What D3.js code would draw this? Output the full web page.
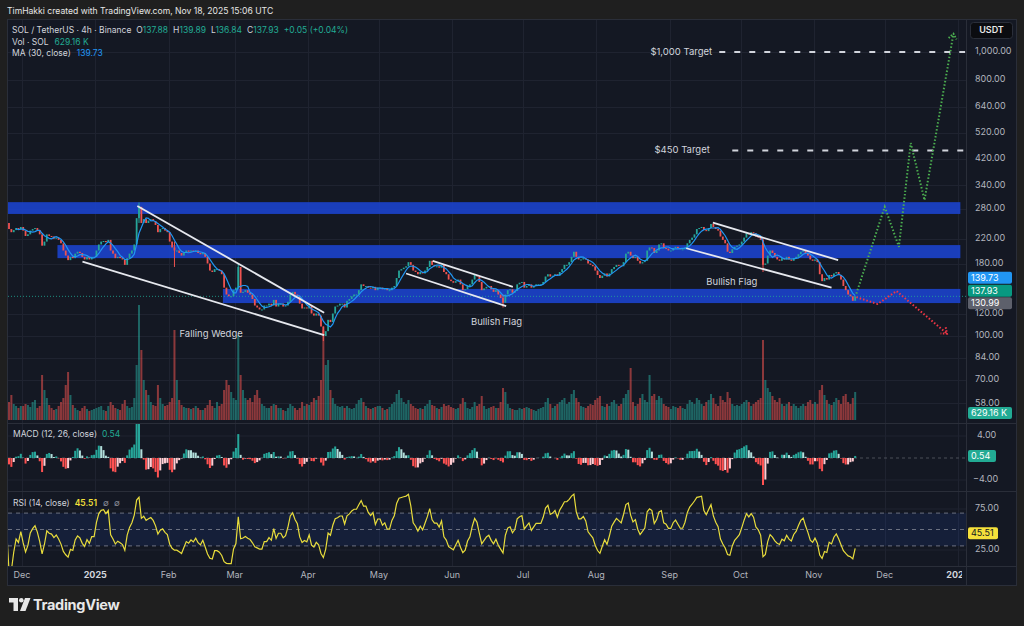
<!DOCTYPE html>
<html><head><meta charset="utf-8">
<script src="https://cdn.jsdelivr.net/npm/d3@7"></script>
<style>
html,body{margin:0;padding:0;background:#1f1f1f;}
svg{display:block;font-family:Inter,"Noto Sans",sans-serif;}
</style></head><body>
<svg id="c" width="1024" height="626"></svg>
<script>
// ---------------- DATA ----------------
const startDate = "2024-11-24";
const firstOpen = 252;
const closeNov24 = [250,238,232,236,240,238,242];
const closeDec24 = [235,225,228,235,238,240,236,228,208,215,228,225,224,220,222,218,212,200,192,185,190,188,195,198,196,190,186,190,186,190,190];
const closeJan25 = [200,210,215,216,214,218,200,195,188,190,188,186,178,188,195,200,210,260,285,250,258,250,255,258,254,246,232,238,240,235,232];
const closeFeb25 = [215,205,200,200,196,192,196,200,198,200,198,200,196,194,196,190,180,170,168,172,172,170,165,148,140,138,138,145];
const closeMar25 = [148,175,142,143,145,142,140,135,128,126,124,124,128,128,130,128,134,127,130,130,127,128,132,140,143,140,138,130,125,126,125];
const closeApr25 = [128,120,118,120,118,108,100,104,114,112,120,127,128,130,130,126,133,135,138,140,140,145,152,150,150,148,147,149,145,148];
const closeMay25 = [148,146,147,145,145,148,150,160,170,172,174,176,182,178,170,168,165,168,166,170,175,184,178,176,176,174,178,168,165,158,156];
const closeJun25 = [154,156,158,152,145,146,150,152,158,164,162,155,145,147,149,150,146,143,145,140,136,131,140,145,146,142,144,152,154,155];
const closeJul25 = [148,150,152,148,150,152,152,152,155,162,165,162,163,165,163,168,172,178,178,182,190,198,190,186,186,188,186,180,178,176,170];
const closeAug25 = [164,160,163,166,162,166,172,175,178,177,176,182,195,198,192,188,190,184,180,182,184,200,205,204,196,200,210,212,204,203,200];
const closeSep25 = [200,204,206,204,202,202,205,212,218,222,228,238,240,242,236,234,240,248,242,238,235,224,218,212,198,196,202,206,208,210];
const closeOct25 = [215,222,230,228,232,230,224,222,218,178,180,192,200,196,190,186,184,188,186,190,186,184,188,190,194,198,200,196,192,186,184];
const closeNov25 = [186,182,165,156,160,158,164,162,166,168,164,158,150,145,140,138,133,137.93];

const volNov24 = [22,18,25,16,14,12,14];
const volDec24 = [14,16,15,13,18,20,12,14,45,30,22,15,12,10,11,14,18,22,35,48,25,15,12,10,9,12,14,11,9,10,11];
const volJan25 = [12,13,14,10,9,14,18,15,12,11,10,16,20,14,12,13,22,55,115,70,40,30,25,18,15,14,35,22,16,14,15];
const volFeb25 = [18,22,90,40,20,15,13,12,12,11,12,14,12,10,10,12,15,20,14,12,18,14,16,30,40,35,28,22];
const volMar25 = [20,85,45,30,22,20,22,18,25,30,22,16,14,12,12,14,16,15,12,12,10,9,12,16,14,12,10,12,18,14,16];
const volApr25 = [15,18,22,20,24,40,90,55,60,30,22,16,14,13,14,12,14,12,11,12,16,20,22,18,14,12,11,12,13,14];
const volMay25 = [14,12,10,11,13,16,18,26,30,22,18,16,20,16,14,12,11,12,11,14,16,20,15,14,12,11,13,16,14,15,13];
const volJun25 = [12,11,12,16,22,18,12,11,13,18,14,16,24,14,11,12,13,14,12,12,18,32,28,16,12,11,10,10,12,11];
const volJul25 = [12,13,12,11,10,9,11,12,13,18,22,16,12,14,16,18,20,22,16,18,26,30,22,18,14,13,12,14,16,15,20];
const volAug25 = [22,24,14,13,16,14,18,20,16,14,16,22,26,30,52,18,14,16,22,26,20,18,45,24,26,20,24,22,16,14,13];
const volSep25 = [11,14,13,12,14,12,11,16,20,18,16,22,20,16,14,18,20,26,22,16,14,24,20,18,28,22,16,14,15,14];
const volOct25 = [16,18,20,18,14,16,18,20,22,80,40,32,28,24,20,18,22,16,14,16,18,14,16,14,12,14,16,14,18,20,16];
const volNov25 = [18,16,30,35,25,20,16,15,18,22,20,16,24,26,18,16,22,28];

const wickDates = ["2025-01-19","2025-02-03","2025-03-02","2025-04-07","2025-06-22","2025-10-10"];
const wickHighs = [295,215,180,108,140,222];
const wickLows  = [250,175,146,96,126,168];

const priceTicks = [1000,800,640,520,420,340,280,220,180,120,100,84,70,58];
const macdTicks = [4,-4];
const rsiTicks = [75,25];
const rsiLevels = [70,50,30];

const zoneLows   = [269,188,130.6];
const zoneHighs  = [296,209,146.5];
const zoneStarts = ["2024-11-20","2024-12-16","2025-02-24"];
const zoneEnd = "2026-01-02";

const trendLines = [
  [["2025-01-18T19:00",287],["2025-04-07T20:00",120.8]],
  [["2024-12-26T14:00",182.6],["2025-04-07T20:00",100.8]],
  [["2025-05-23T18:00",184],["2025-06-26T16:00",149]],
  [["2025-05-12T12:00",166],["2025-06-23T20:00",127.5]],
  [["2025-09-19T07:00",250.6],["2025-11-11T07:00",185]],
  [["2025-09-08T00:00",203.7],["2025-11-08T12:00",148]]
];
const patternLabels = ["Falling Wedge","Bullish Flag","Bullish Flag"];
const patternLabelPos = [["2025-02-19",101],["2025-06-19T18:00",112],["2025-09-27T08:00",155]];

const greenDates  = ["2025-11-19","2025-12-01","2025-12-07","2025-12-12","2025-12-17T20:00","2025-12-30"];
const greenPrices = [141,285,206,478,301,1150];
const redDates  = ["2025-11-19","2025-11-28","2025-12-06","2025-12-27"];
const redPrices = [137,129.6,144,102.5];

const targets = [1000,450];
const targetLabels = ["$1,000 Target","$450 Target"];
const targetStarts = ["2025-09-22","2025-09-27T12:00"];
const targetLabelEnds = ["2025-09-19","2025-09-18"];
const targetEnd = "2026-01-04";

const lastMA = 139.73, lastClose = 137.93, zoneBadge = 130.99, lastVol = "629.16 K", lastMACD = 0.54, lastRSI = 45.51;
const legendLine1 = [["SOL / TetherUS · 4h · Binance","t"],["O","t"],["137.88","g"],["H","t"],["139.89","g"],["L","t"],["136.84","g"],["C","t"],["137.93","g"],["+0.05 (+0.04%)","g"]];
const monthTicks = ["2024-12-01","2025-01-01","2025-02-01","2025-03-01","2025-04-01","2025-05-01","2025-06-01","2025-07-01","2025-08-01","2025-09-01","2025-10-01","2025-11-01","2025-12-01","2026-01-01"];

// ---------------- BUILD ----------------
const D = s => new Date((s.length===10? s+"T00:00:00":s+":00")+"Z");
const closes = [].concat(closeNov24,closeDec24,closeJan25,closeFeb25,closeMar25,closeApr25,closeMay25,closeJun25,closeJul25,closeAug25,closeSep25,closeOct25,closeNov25);
const vols = [].concat(volNov24,volDec24,volJan25,volFeb25,volMar25,volApr25,volMay25,volJun25,volJul25,volAug25,volSep25,volOct25,volNov25);
const t0 = D(startDate);
const bars = closes.map((c,i)=>{
  const date = d3.utcDay.offset(t0,i);
  const open = i===0? firstOpen : closes[i-1];
  return {date, mid:d3.utcHour.offset(date,12), open, close:c, vol:vols[i], up:c>=open};
});
const wickMap = new Map(wickDates.map((d,i)=>[+D(d),[wickHighs[i],wickLows[i]]]));

// indicators on daily bars (periods rescaled from the 4h settings)
const maN = 30/6;
const ma = bars.map((b,i)=> i<maN-1? null : d3.mean(closes.slice(i-maN+1,i+1)));
function ema(arr,n){const a=2/(n+1);let e=arr[0];return arr.map((v,i)=>(e=i?a*v+(1-a)*e:v));}
const fastE = ema(closes,12/3), slowE = ema(closes,26/3);
const macd = closes.map((c,i)=>fastE[i]-slowE[i]);
const sig = ema(macd,9/3);
const hist = macd.map((m,i)=>m-sig[i]);
const rsiA = 1/(14/2);
let ag=0, al=0;
const rsi = closes.map((c,i)=>{ if(i===0) return 50; const ch=c-closes[i-1]; ag=rsiA*Math.max(ch,0)+(1-rsiA)*ag; al=rsiA*Math.max(-ch,0)+(1-rsiA)*al; return al===0?100:100-100/(1+ag/al);});

// ---------------- SCALES ----------------
const svg = d3.select("#c");
const X0=8, X1=966;
const x = d3.scaleUtc().domain([D("2024-12-01"),D("2026-01-01")]).range([22,958]);
const yP = d3.scaleLog().domain([100,1000]).range([336,52]);
const yV = d3.scaleLinear().domain([0,120]).range([420,300]);
const yM = d3.scaleLinear().domain([-4,4]).range([480,436]);
const yR = d3.scaleLinear().domain([25,75]).range([550,509]);

const C = {bg:"#141823", grid:"#1f2330", border:"#2a2e39", text:"#b2b5be", up:"#26a69a", dn:"#ef5350", green:"#22ab94"};

svg.append("rect").attr("width",1024).attr("height",626).attr("fill","#1f1f1f");
svg.append("rect").attr("x",7.5).attr("y",19.5).attr("width",1009).attr("height",566).attr("fill",C.bg).attr("stroke",C.border);

const defs = svg.append("defs");
defs.append("clipPath").attr("id","cp").append("rect").attr("x",X0).attr("y",20).attr("width",X1-X0).attr("height",402);
defs.append("clipPath").attr("id","cm").append("rect").attr("x",X0).attr("y",424).attr("width",X1-X0).attr("height",66);
defs.append("clipPath").attr("id","cr").append("rect").attr("x",X0).attr("y",492).attr("width",X1-X0).attr("height",74);
defs.append("clipPath").attr("id","ct").append("rect").attr("x",X0).attr("y",566).attr("width",962-X0).attr("height",20);
function arrow(id,color){
  defs.append("marker").attr("id",id).attr("viewBox","0 0 10 10").attr("refX",5).attr("refY",5)
   .attr("markerWidth",5).attr("markerHeight",5).attr("orient","auto")
   .append("path").attr("d","M1,1 L6,5 L1,9").attr("fill","none").attr("stroke",color).attr("stroke-width",2).attr("stroke-dasharray","1.5 1.5");
}
arrow("ag","#4caf50"); arrow("ar","#f23645");

// grid
const g = svg.append("g");
monthTicks.forEach(m=>{
  const xx = Math.round(x(D(m)))+0.5;
  if(xx<X1) g.append("line").attr("x1",xx).attr("x2",xx).attr("y1",20).attr("y2",566).attr("stroke",C.grid);
});
priceTicks.forEach(p=>g.append("line").attr("x1",X0).attr("x2",X1).attr("y1",Math.round(yP(p))+0.5).attr("y2",Math.round(yP(p))+0.5).attr("stroke",C.grid));
macdTicks.forEach(p=>g.append("line").attr("x1",X0).attr("x2",X1).attr("y1",yM(p)).attr("y2",yM(p)).attr("stroke",C.grid));
rsiTicks.forEach(p=>g.append("line").attr("x1",X0).attr("x2",X1).attr("y1",yR(p)).attr("y2",yR(p)).attr("stroke",C.grid));
[423,491,566].forEach(yy=>svg.append("line").attr("x1",X0).attr("x2",1016).attr("y1",yy+0.5).attr("y2",yy+0.5).attr("stroke",C.border));
svg.append("line").attr("x1",X1+0.5).attr("x2",X1+0.5).attr("y1",20).attr("y2",585).attr("stroke",C.border);

// ---------------- PRICE PANE ----------------
const pp = svg.append("g").attr("clip-path","url(#cp)");
zoneLows.forEach((lo,i)=>{
  pp.append("rect").attr("x",x(D(zoneStarts[i]))).attr("width",x(D(zoneEnd))-x(D(zoneStarts[i])))
    .attr("y",yP(zoneHighs[i])).attr("height",yP(lo)-yP(zoneHighs[i])).attr("fill","#1b43d0").attr("opacity",0.88);
});
pp.selectAll(".v").data(bars).join("rect").attr("x",d=>x(d.mid)-1).attr("width",2)
  .attr("y",d=>yV(d.vol)).attr("height",d=>yV(0)-yV(d.vol))
  .attr("fill",d=>d.up?C.up:C.dn).attr("opacity",0.55);
pp.append("line").attr("x1",X0).attr("x2",X1).attr("y1",yP(lastClose)).attr("y2",yP(lastClose))
  .attr("stroke",C.green).attr("stroke-dasharray","1 2").attr("opacity",0.8);
pp.selectAll(".w").data(bars.filter(b=>wickMap.has(+b.date))).join("line")
  .attr("x1",d=>x(d.mid)).attr("x2",d=>x(d.mid))
  .attr("y1",d=>yP(wickMap.get(+d.date)[0])).attr("y2",d=>yP(wickMap.get(+d.date)[1]))
  .attr("stroke",d=>d.up?C.up:C.dn).attr("stroke-width",1);
pp.selectAll(".c").data(bars).join("rect").attr("x",d=>x(d.mid)-0.9).attr("width",1.8)
  .attr("y",d=>Math.min(yP(d.open),yP(d.close))).attr("height",d=>Math.max(1,Math.abs(yP(d.open)-yP(d.close))))
  .attr("fill",d=>d.up?C.up:C.dn);
pp.append("path").datum(bars.map((b,i)=>[b.mid,ma[i]]).filter(d=>d[1]!==null))
  .attr("d",d3.line().x(d=>x(d[0])).y(d=>yP(d[1]))).attr("fill","none").attr("stroke","#2196f3").attr("stroke-width",1.2);
trendLines.forEach(tl=>pp.append("line").attr("x1",x(D(tl[0][0]))).attr("y1",yP(tl[0][1])).attr("x2",x(D(tl[1][0]))).attr("y2",yP(tl[1][1]))
  .attr("stroke","#e6e8ee").attr("stroke-width",1.8));
patternLabels.forEach((t,i)=>pp.append("text").attr("x",x(D(patternLabelPos[i][0]))).attr("y",yP(patternLabelPos[i][1]))
  .attr("text-anchor","middle").attr("dominant-baseline","middle").attr("fill","#d1d4dc").attr("font-size",9.5).text(t));
targets.forEach((p,i)=>{
  pp.append("line").attr("x1",x(D(targetStarts[i]))).attr("x2",x(D(targetEnd))).attr("y1",yP(p)).attr("y2",yP(p))
    .attr("stroke","#d1d4dc").attr("stroke-width",2).attr("stroke-dasharray","6 9");
  pp.append("text").attr("x",x(D(targetLabelEnds[i]))).attr("y",yP(p)).attr("text-anchor","end").attr("dominant-baseline","middle")
    .attr("fill","#d1d4dc").attr("font-size",9.5).text(targetLabels[i]);
});
const pl = d3.line().x(d=>x(D(d[0]))).y(d=>yP(d[1]));
pp.append("path").datum(greenDates.map((d,i)=>[d,greenPrices[i]])).attr("d",pl).attr("fill","none")
  .attr("stroke","#4caf50").attr("stroke-width",2).attr("stroke-dasharray","1.5 2").attr("marker-end","url(#ag)");
pp.append("path").datum(redDates.map((d,i)=>[d,redPrices[i]])).attr("d",pl).attr("fill","none")
  .attr("stroke","#f23645").attr("stroke-width",2).attr("stroke-dasharray","1.5 2").attr("marker-end","url(#ar)");

// ---------------- MACD PANE ----------------
const mp = svg.append("g").attr("clip-path","url(#cm)");
mp.append("line").attr("x1",X0).attr("x2",X1).attr("y1",yM(0)).attr("y2",yM(0)).attr("stroke","#4a4e59").attr("stroke-dasharray","3 3");
mp.selectAll(".h").data(bars).join("rect").attr("x",d=>x(d.mid)-1).attr("width",2)
  .attr("y",(d,i)=>Math.min(yM(0),yM(hist[i]))).attr("height",(d,i)=>Math.abs(yM(hist[i])-yM(0)))
  .attr("fill",(d,i)=>{const h=hist[i],p=i?hist[i-1]:0; return h>=0?(h>=p?"#26a69a":"#b2dfdb"):(h<=p?"#ff5252":"#ffcdd2");});

// ---------------- RSI PANE ----------------
const rp = svg.append("g").attr("clip-path","url(#cr)");
rp.append("rect").attr("x",X0).attr("width",X1-X0).attr("y",yR(70)).attr("height",yR(30)-yR(70)).attr("fill","#2962ff").attr("opacity",0.1);
rsiLevels.forEach(l=>rp.append("line").attr("x1",X0).attr("x2",X1).attr("y1",yR(l)).attr("y2",yR(l)).attr("stroke","#6b7080").attr("stroke-dasharray","4 4"));
rp.append("path").datum(rsi).attr("d",d3.line().x((d,i)=>x(bars[i].mid)).y(d=>yR(d))).attr("fill","none").attr("stroke","#e8dc3c").attr("stroke-width",1.2);

// ---------------- AXES ----------------
const ax = svg.append("g").attr("font-size",9).attr("fill",C.text);
priceTicks.forEach(p=>ax.append("text").attr("x",975).attr("y",yP(p)).attr("dominant-baseline","middle").text(d3.format(",.2f")(p)));
macdTicks.forEach(p=>ax.append("text").attr("x",p<0?973:977).attr("y",yM(p)).attr("dominant-baseline","middle").text(d3.format(".2f")(p).replace("-","−")));
rsiTicks.forEach(p=>ax.append("text").attr("x",975).attr("y",yR(p)).attr("dominant-baseline","middle").text(d3.format(".2f")(p)));
const tg = svg.append("g").attr("clip-path","url(#ct)");
monthTicks.forEach(m=>{
  const d=D(m), yr=d.getUTCMonth()===0;
  tg.append("text").attr("x",x(d)).attr("y",576).attr("text-anchor","middle").attr("dominant-baseline","middle")
   .attr("font-size",9).attr("fill",yr?"#d1d4dc":C.text).attr("font-weight",yr?"bold":"normal")
   .text(yr? d.getUTCFullYear() : d3.utcFormat("%b")(d));
});
function badge(yy,txt,bg,fg,w){
  svg.append("rect").attr("x",968).attr("y",yy-6).attr("width",w||44).attr("height",12).attr("rx",2).attr("fill",bg);
  svg.append("text").attr("x",971).attr("y",yy+0.5).attr("dominant-baseline","middle").attr("font-size",9).attr("fill",fg).text(txt);
}
const zb = yP(zoneBadge)+0.5;
badge(zb-25.5,lastMA.toFixed(2),"#2196f3","#fff");
badge(zb-12.5,lastClose.toFixed(2),"#089981","#fff");
badge(zb,zoneBadge.toFixed(2),"#5d606b","#fff");
badge(yV(0)-7,lastVol,"#22ab94","#fff");
badge(yM(lastMACD)+1,lastMACD.toFixed(2),"#22ab94","#fff",28);
badge(yR(lastRSI),lastRSI.toFixed(2),"#f5e03b","#131722",30);
svg.append("rect").attr("x",970.5).attr("y",22.5).attr("width",42).attr("height",16).attr("rx",3).attr("fill","#0b0c10").attr("stroke","#2a2e39");
svg.append("text").attr("x",991.5).attr("y",31).attr("text-anchor","middle").attr("dominant-baseline","middle").attr("font-size",9).attr("fill","#e8e8e8").attr("font-weight",600).text("USDT");

// ---------------- LEGEND / HEADER ----------------
svg.append("text").attr("x",7).attr("y",14).attr("font-size",8.6).attr("fill","#e6e6e6").text("TimHakki created with TradingView.com, Nov 18, 2025 15:06 UTC");
const l1 = svg.append("text").attr("x",12).attr("y",32.5).attr("font-size",8.5).attr("fill","#d1d4dc");
legendLine1.forEach(([t,c],i)=>l1.append("tspan").attr("dx", c==="t"&&i>0?5:(i>0&&i===legendLine1.length-1?5:0)).attr("fill",c==="g"?C.green:"#d1d4dc").text(t));
const l2 = svg.append("text").attr("x",12).attr("y",44.5).attr("font-size",8.5).attr("fill","#d1d4dc");
l2.append("tspan").text("Vol · SOL"); l2.append("tspan").attr("dx",6).attr("fill",C.green).text(lastVol);
const l3 = svg.append("text").attr("x",12).attr("y",55.5).attr("font-size",8.5).attr("fill","#d1d4dc");
l3.append("tspan").text("MA (30, close)"); l3.append("tspan").attr("dx",6).attr("fill","#2196f3").text(lastMA.toFixed(2));
const l4 = svg.append("text").attr("x",13).attr("y",437).attr("font-size",8.5).attr("fill","#d1d4dc");
l4.append("tspan").text("MACD (12, 26, close)"); l4.append("tspan").attr("dx",5).attr("fill",C.green).text(lastMACD.toFixed(2));
const l5 = svg.append("text").attr("x",13).attr("y",506).attr("font-size",8.5).attr("fill","#d1d4dc");
l5.append("tspan").text("RSI (14, close)"); l5.append("tspan").attr("dx",5).attr("fill","#f5e03b").attr("font-weight",600).text(lastRSI.toFixed(2));
l5.append("tspan").attr("dx",6).attr("fill","#8a8e99").text("∅");
l5.append("tspan").attr("dx",5).attr("fill","#8a8e99").text("∅");

const lg = svg.append("g").attr("fill","#e8e8e8");
lg.append("path").attr("d","M9,598 h9 v13 h-4.5 v-8.5 h-4.5 z");
lg.append("circle").attr("cx",21.3).attr("cy",600.3).attr("r",2.3);
lg.append("path").attr("d","M25,598 h5.5 l-5,13 h-5.5 z");
svg.append("text").attr("x",33).attr("y",609.5).attr("font-size",14.5).attr("font-weight",700).attr("fill","#e8e8e8").attr("letter-spacing",-0.3).text("TradingView");
</script>
</body></html>
